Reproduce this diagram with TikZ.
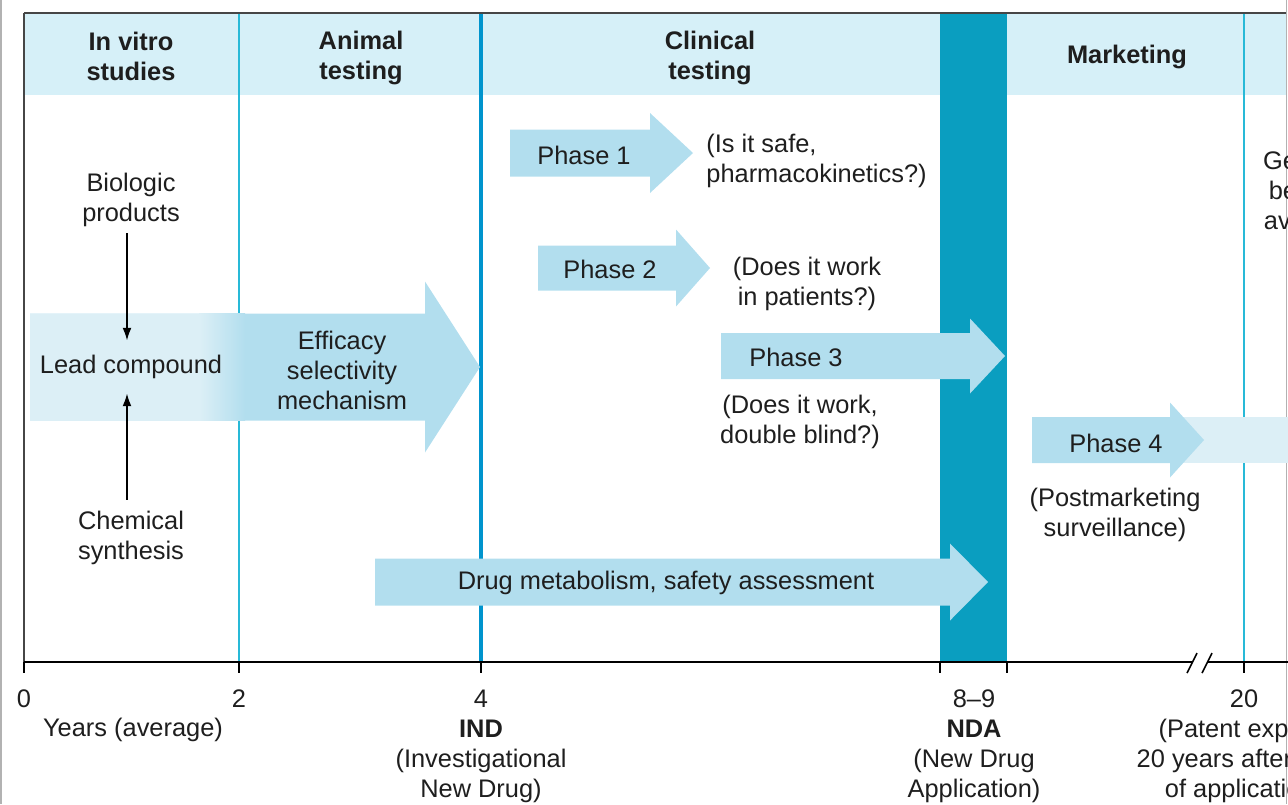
\documentclass[tikz,border=0pt]{standalone}
\usepackage{fontspec}
\setmainfont{Liberation Sans}
\usetikzlibrary{arrows.meta}

\definecolor{headfill}{RGB}{214,240,248}
\definecolor{arrowblue}{RGB}{178,222,238}
\definecolor{palearrow}{RGB}{220,239,246}
\definecolor{ndablue}{RGB}{10,158,192}
\definecolor{indblue}{RGB}{0,148,205}
\definecolor{thincyan}{RGB}{40,185,215}
\definecolor{framegray}{RGB}{70,70,70}
\definecolor{textgray}{RGB}{30,30,30}

% block arrow: [colour] x start, x head base, x tip, y centre, half shaft, half head
\newcommand{\blockarrow}[7][arrowblue]{%
  \fill[#1] (#2,#5-#6) -- (#3,#5-#6) -- (#3,#5-#7) -- (#4,#5)
    -- (#3,#5+#7) -- (#3,#5+#6) -- (#2,#5+#6) -- cycle;}

\begin{document}
\begin{tikzpicture}[x=0.5pt, y=-0.5pt,
    every node/.style={inner sep=0pt, text=textgray, align=center, yshift=-1pt,
      font=\fontsize{12.7}{15}\selectfont},
    head/.style={font=\fontsize{12.7}{15}\selectfont\bfseries},
    tick/.style={black, line width=0.6pt},
    leadarrow/.style={-{Latex[length=6.5pt,width=4.5pt]}, black, line width=1pt}]
  \useasboundingbox (0,0) rectangle (1288,804);
  \clip (0,0) rectangle (1288,804);

  % frame and bands
  \draw[gray!60, line width=0.8pt] (1,0) -- (1,804);
  \draw[gray!60, line width=0.8pt] (1286.5,0) -- (1286.5,804);
  \fill[headfill] (24,13) rectangle (1286,95);
  \fill[ndablue] (940,13) rectangle (1007,662);
  \draw[thincyan, line width=0.8pt] (239,13) -- (239,662);
  \draw[thincyan, line width=0.8pt] (1244,13) -- (1244,662);
  \draw[indblue, line width=2pt] (481,13) -- (481,662);
  \draw[framegray, line width=1pt] (24,13) -- (1286,13);
  \draw[framegray, line width=1pt] (24,13) -- (24,672);

  % block arrows
  \blockarrow{30}{425}{480}{367}{53.5}{85.5}
  \fill[palearrow] (30,313.5) rectangle (200,420.5);
  \shade[left color=palearrow, right color=arrowblue] (199,313.5) rectangle (245,420.5);
  \blockarrow{510}{650}{693}{153}{23.5}{40}
  \blockarrow{538}{676}{710}{268}{22.5}{38.5}
  \blockarrow{721}{970}{1005}{356}{23}{37.5}
  \fill[palearrow] (1170,417) rectangle (1288,463);
  \blockarrow{1032}{1170}{1204}{440}{23}{37.5}
  \blockarrow{375}{950}{988}{582}{23.5}{38.5}

  % headers
  \node[head] (vitro) at (131,54) {In vitro\\studies};
  \node[head] (animal) at (361,56) {Animal\\testing};
  \node[head] (clinical) at (710,56) {Clinical\\testing};
  \node[head] (market) at (1127,55) {Marketing};

  % discovery
  \node (bio) at (131,198) {Biologic\\products};
  \node (lead) at (131,365) {Lead compound};
  \node (chem) at (131,536) {Chemical\\synthesis};
  \draw[leadarrow, shorten <=3pt, shorten >=7pt] ([xshift=-2pt]bio.south) -- ([xshift=-2pt]lead.north);
  \draw[leadarrow, shorten <=5.5pt, shorten >=7pt] ([xshift=-2pt]chem.north) -- ([xshift=-2pt]lead.south);
  \node (efficacy) at (342,368) {Efficacy\\selectivity\\mechanism};

  % phases
  \node (phase1) at (584,153) {Phase 1};
  \node[anchor=west, align=left] (ask1) at (706,158.5) {(Is it safe,\\pharmacokinetics?)};
  \node (phase2) at (610,267) {Phase 2};
  \node (ask2) at (807,282) {(Does it work\\in patients?)};
  \node (phase3) at (796,355) {Phase 3};
  \node (ask3) at (800,420) {(Does it work,\\double blind?)};
  \node (phase4) at (1116,441) {Phase 4};
  \node (ask4) at (1115,513) {(Postmarketing\\surveillance)};
  \node (metab) at (666,581) {Drug metabolism, safety assessment};
  \node (generics) at (1314,188) {Generics\\become\\available};

  % time axis
  \draw[black, line width=0.8pt] (24,662) -- (1193,662);
  \draw[black, line width=0.8pt] (1207,662) -- (1288,662);
  \draw[black, line width=0.8pt] (1187,673) -- (1197,653);
  \draw[black, line width=0.8pt] (1202,673) -- (1212,653);
  \foreach \tx in {24,239,481,940,1007,1244}
    \draw[tick] (\tx,662) -- (\tx,673);
  \node (year0) at (24,697) {0};
  \node (year2) at (239,697) {2};
  \node (year4) at (481,697) {4};
  \node (year89) at (974,697) {8--9};
  \node (year20) at (1244,697) {20};
  \node (years) at (133,728) {Years (average)};
  \node (ind) at (481,759) {\textbf{IND}\\(Investigational\\New Drug)};
  \node (nda) at (974,759) {\textbf{NDA}\\(New Drug\\Application)};
  \node (patent) at (1244,759) {(Patent expires\\20 years after filing\\of application)};
\end{tikzpicture}
\end{document}
